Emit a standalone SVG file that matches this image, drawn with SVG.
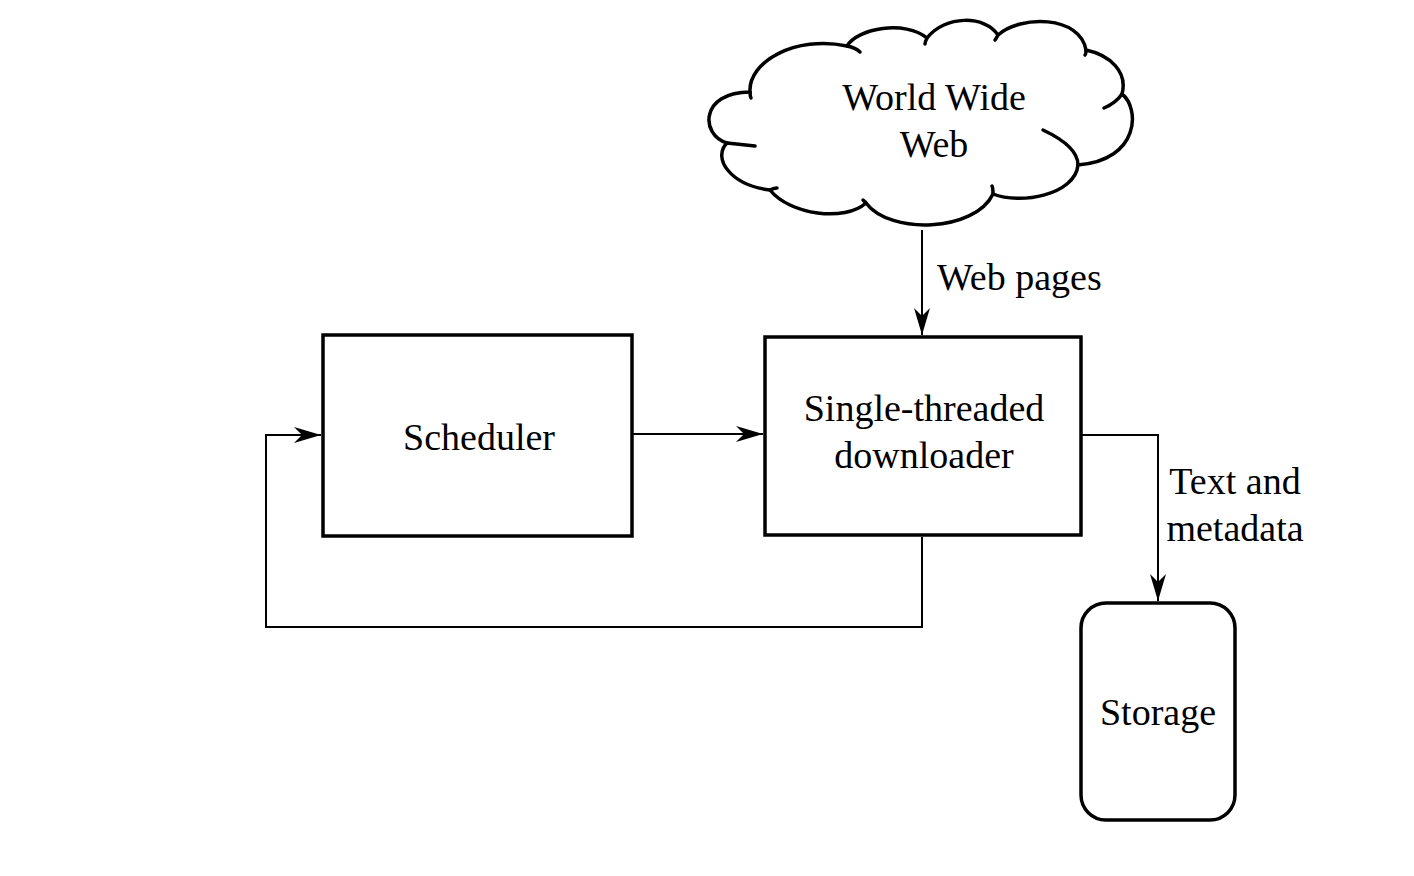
<svg xmlns="http://www.w3.org/2000/svg" width="1414" height="876" viewBox="0 0 1414 876">
<style>
.box{fill:#fff;stroke:#000;stroke-width:3.5}
.cl{fill:none;stroke:#000;stroke-width:3.5;stroke-linecap:round}
.edge{fill:none;stroke:#000;stroke-width:2}
text{font-family:"Liberation Serif","Times New Roman",serif;font-size:38px;fill:#000}
.c{text-anchor:middle}
</style>
<defs>
<marker id="arr" markerUnits="userSpaceOnUse" markerWidth="28" markerHeight="18" refX="27" refY="8" orient="auto">
<path d="M0,0 L27,8 L0,16 L8,8 Z" fill="#000"/>
</marker>
</defs>
<rect width="1414" height="876" fill="#fff"/>
<g id="cloud">
<path class="cl" style="fill:#fff" d="M750,92 C748,62 795,35 847,46 C858,28 905,20 927,38 C945,15 985,15 998,35 C1020,15 1080,15 1086,50 C1110,55 1128,72 1122,94 C1140,108 1140,160 1078,165 C1075,195 1020,205 993,194 C975,232 890,235 866,203 C845,222 790,215 770,190 C730,185 712,158 727,143 C700,135 700,92 750,92 Z"/>
<path class="cl" d="M847,46 C852,47 857,49 860,52"/>
<path class="cl" d="M927,38 C926,40 925,42 925,44"/>
<path class="cl" d="M998,35 C997,37 996,39 995,40"/>
<path class="cl" d="M1086,50 C1086,52 1086,54 1085,55"/>
<path class="cl" d="M1122,94 C1118,100 1111,105 1104,108"/>
<path class="cl" d="M1043,130 C1060,138 1078,150 1078,165"/>
<path class="cl" d="M993,194 C993,191 993,188 992,186"/>
<path class="cl" d="M866,203 C865,202 864,201 863,200"/>
<path class="cl" d="M770,190 C772,189 775,188 777,188"/>
<path class="cl" d="M727,143 C737,144 746,145 755,146"/>
<path class="cl" d="M750,92 C750,94 750,96 751,98"/>
<text class="c" x="934" y="110">World Wide</text>
<text class="c" x="934" y="157">Web</text>
</g>
<g id="scheduler">
<rect class="box" x="323" y="335" width="309" height="201"/>
<text class="c" x="479" y="450">Scheduler</text>
</g>
<g id="downloader">
<rect class="box" x="765" y="337" width="316" height="198"/>
<text class="c" x="924" y="421">Single-threaded</text>
<text class="c" x="924" y="468">downloader</text>
</g>
<g id="storage">
<rect class="box" x="1081" y="603" width="154" height="217" rx="25" ry="25"/>
<text class="c" x="1158" y="725">Storage</text>
</g>
<g id="connectors">
<path class="edge" d="M922,230 L922,335" marker-end="url(#arr)"/>
<path class="edge" d="M632,434 L763,434" marker-end="url(#arr)"/>
<path class="edge" d="M922,537 L922,627 L266,627 L266,435 L321,435" marker-end="url(#arr)"/>
<path class="edge" d="M1082,435 L1158,435 L1158,601" marker-end="url(#arr)"/>
<text x="937" y="290">Web pages</text>
<text class="c" x="1235" y="494">Text and</text>
<text class="c" x="1235" y="541">metadata</text>
</g>
</svg>
